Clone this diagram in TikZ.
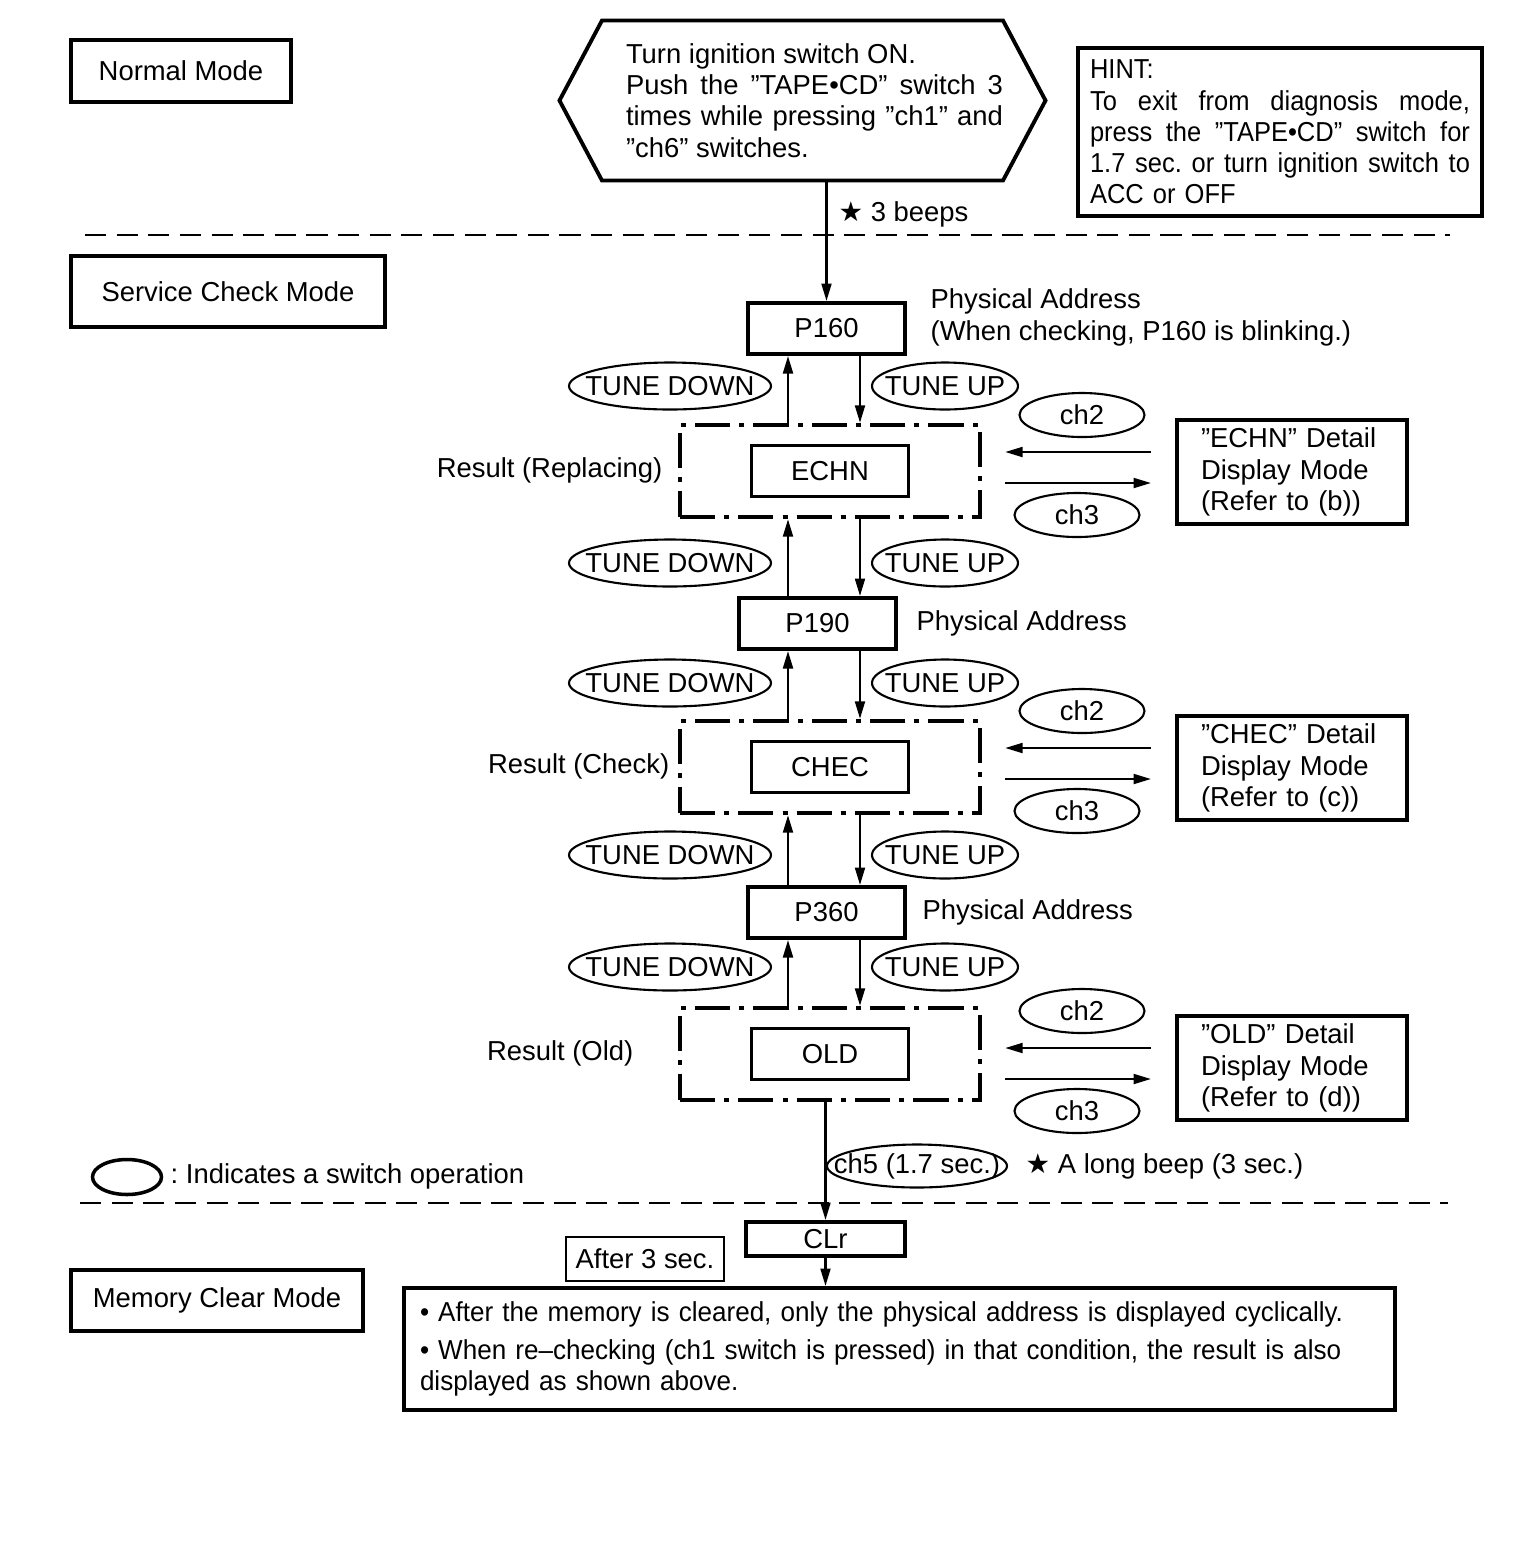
\documentclass[tikz,border=0pt]{standalone}
\usepackage{fontspec}
\setmainfont{Liberation Sans}
\newfontfamily\condfont{Liberation Sans}[FakeStretch=0.95]
\newfontfamily\hintfont{Liberation Sans}[FakeStretch=0.93]
\newfontfamily\symfont{DejaVu Sans}
\usetikzlibrary{arrows.meta,shapes.geometric,shapes.symbols,positioning}
\frenchspacing

\newcommand{\sw}[1]{\makebox[0pt]{#1}}
\newcommand{\bstar}{{\symfont ★}}
\newcommand{\hintline}[1]{\leavevmode\hbox to 38mm{#1}}

\tikzset{
  txt/.style={font=\fontsize{7.8}{8.9}\selectfont, inner sep=0pt},
  modebox/.style={txt, draw, line width=1.1pt},
  addrbox/.style={txt, draw, line width=1.1pt, minimum width=15.7mm, minimum height=5.1mm},
  resultarea/.style={draw, line width=1.2pt, dash pattern=on 10pt off 2.6pt on 1.4pt off 2.6pt,
    minimum width=30mm, minimum height=9.2mm, inner sep=0pt},
  switch/.style={txt, draw, ellipse, line width=0.6pt},
  detailbox/.style={txt, draw, line width=1.1pt, align=left, text width=18.2mm,
    minimum height=10.4mm, inner xsep=2.4mm},
  link/.style={line width=0.7pt, -{Triangle[length=5pt,width=2.8pt]}},
  separator/.style={line width=0.6pt, dash pattern=on 6pt off 3pt}
}

\begin{document}
\begin{tikzpicture}[x=0.1mm,y=-0.1mm]
\useasboundingbox (0,0) rectangle (1520,1562);
\def \upx {788}   % column of the TUNE DOWN arrows
\def \downx {860} % column of the TUNE UP arrows

% modes
\node[modebox, minimum width=22mm, minimum height=6.2mm] (normal) at (181,71) {Normal Mode};
\node[modebox, minimum width=31.4mm, minimum height=7.1mm] (service) at (228,291.5) {Service Check Mode};
\node[modebox, minimum width=29.2mm, minimum height=6.1mm] (memclear) at (217,1300.5) {Memory Clear Mode};

\node[txt, draw, line width=1.1pt, signal, signal to=east and west, signal pointer angle=124,
  minimum width=48.5mm, minimum height=16mm] (start) at (802.5,100.5)
  {\hspace*{2.4mm}\parbox{37.7mm}{Turn ignition switch ON.\\
   \makebox[\linewidth][s]{Push the ”TAPE•CD” switch 3}\\
   \makebox[\linewidth][s]{times while pressing ”ch1” and}\\
   ”ch6” switches.}};

\node[txt, draw, line width=1.1pt, align=left, text width=38mm, inner xsep=1.2mm,
  minimum height=16.8mm] (hint) at (1280,132)
  {\hintfont HINT:\\
   \hintline{To \hfill exit \hfill from \hfill diagnosis \hfill mode,}\\
   \hintline{press \hfill the \hfill ”TAPE•CD” \hfill switch \hfill for}\\
   \hintline{1.7 \hfill sec. \hfill or \hfill turn \hfill ignition \hfill switch \hfill to}\\
   ACC or OFF};

\draw[separator] (85,235) -- (1450,235);
\draw[separator] (80,1203) -- (1448,1203);

% physical addresses
\node[addrbox] (P160) at (826.5,328.5) {P160};
\node[addrbox] (P190) at (817.5,623.5) {P190};
\node[addrbox] (P360) at (826.5,912.5) {P360};
\node[txt, align=left, right=2.3mm of P160, yshift=1.1mm] (P160-note)
  {Physical Address\\(When checking, P160 is blinking.)};
\node[txt, right=1.8mm of P190] (P190-note) {Physical Address};
\node[txt, right=1.5mm of P360] (P360-note) {Physical Address};

\draw[link] (start.south -| P160.north) -- (P160.north);
\node[txt, anchor=west] (beeps) at (838,214) {\bstar\ 3 beeps};

% results and detail modes
\foreach \nm/\Y/\S/\lx/\lab/\ltr in {ECHN/471/471/663/Replacing/b, CHEC/767/767/670/Check/c, OLD/1054/1067/634/Old/d}
{
  \node[resultarea] (\nm-area) at (830,\Y) {};
  \node[addrbox] (\nm) at (\nm-area.center) {\nm};
  \node[txt, anchor=east] (\nm-res) at (\lx,\Y-1) {Result (\lab)};
  \node[detailbox] (\nm-detail) at (1292,\S+1) {”\nm” Detail\\Display Mode\\(Refer to (\ltr))};
  \node[switch, minimum width=12.5mm, minimum height=4.4mm] (\nm-ch2) at (1082,\S-56) {\sw{ch2}};
  \node[switch, minimum width=12.5mm, minimum height=4.4mm] (\nm-ch3) at (1077,\S+44) {\sw{ch3}};
  \draw[link, shorten <=2.4mm, shorten >=2.3mm] (\nm-detail.west |- 0,\S-19) -- (\nm-area.east |- 0,\S-19);
  \draw[link, shorten <=2.3mm, shorten >=2.4mm] (\nm-area.east |- 0,\S+12) -- (\nm-detail.west |- 0,\S+12);
}

% tune up / tune down
\foreach \a/\b/\y [count=\i] in {P160/ECHN-area/386, ECHN-area/P190/563, P190/CHEC-area/683, CHEC-area/P360/855, P360/OLD-area/967}
{
  \draw[link] (\b.north -| \upx,0) -- (\a.south -| \upx,0);
  \draw[link] (\a.south -| \downx,0) -- (\b.north -| \downx,0);
  \node[switch, minimum width=20.2mm, minimum height=4.7mm] (td\i) at (670,\y) {\sw{TUNE DOWN}};
  \node[switch, minimum width=14.6mm, minimum height=4.7mm] (tu\i) at (945,\y) {\sw{TUNE UP}};
}

% memory clear
\node[addrbox, minimum width=15.9mm, minimum height=3.4mm] (CLr) at (825.5,1239) {CLr};
\draw[link] (OLD-area.south -| CLr.north) -- (CLr.north);
\node[switch, minimum width=18mm, minimum height=4.3mm] (ch5) at (917,1166) {\sw{ch5 (1.7 sec.)}};
\node[txt, anchor=west] (longbeep) at (1025,1166) {\bstar\ A long beep (3 sec.)};

\node[switch, line width=1pt, minimum width=6.9mm, minimum height=3.5mm] (legend) at (127,1177) {};
\node[txt, anchor=west] (legend-txt) at (170,1176) {: Indicates a switch operation};

\node[txt, draw, line width=0.5pt, minimum width=15.8mm, minimum height=4.4mm] (after) at (645,1259) {After 3 sec.};

\node[txt, draw, line width=1.1pt, align=left, text width=95.9mm, inner xsep=1.6mm,
  minimum height=12.2mm] (cleared) at (899.5,1349)
  {\condfont • After the memory is cleared, only the physical address is displayed cyclically.\\[0.6mm]
   • When re–checking (ch1 switch is pressed) in that condition, the result is also\\
   displayed as shown above.};
\draw[link] (CLr.south) -- (CLr.south |- cleared.north);
\end{tikzpicture}
\end{document}
